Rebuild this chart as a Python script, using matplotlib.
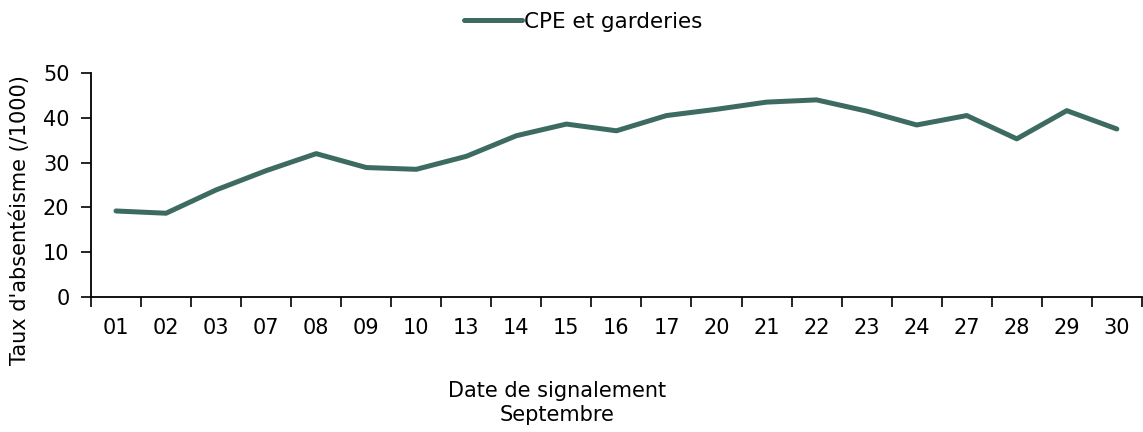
import matplotlib
matplotlib.use("Agg")
import matplotlib.pyplot as plt

dates = ["01", "02", "03", "07", "08", "09", "10", "13", "14", "15", "16",
         "17", "20", "21", "22", "23", "24", "27", "28", "29", "30"]
values = [19.2, 18.7, 23.9, 28.2, 32.0, 28.9, 28.5, 31.4, 36.0, 38.6, 37.1,
          40.5, 41.9, 43.5, 44.0, 41.5, 38.4, 40.5, 35.3, 41.6, 37.5]
series_name = "CPE et garderies"
yticks = [0, 10, 20, 30, 40, 50]

plt.rcParams['font.family'] = ['DejaVu Sans']
color = "#3d6b62"
fs = 15

fig = plt.figure(figsize=(11.43, 4.32), dpi=100)
ax = fig.add_axes([91/1143, 1-297/432, (1143-91)/1143 - 0.001, (297-73)/432])

x = list(range(len(dates)))
ax.plot(x, values, color=color, lw=3.6, solid_capstyle='round', solid_joinstyle='round',
        label=series_name)

ax.set_xlim(-0.5, len(dates) - 0.5)
ax.set_ylim(0, 50)
ax.set_yticks(yticks)
ax.set_yticklabels([str(t) for t in yticks], fontsize=fs)

ax.set_xticks(x)
ax.set_xticklabels(dates, fontsize=fs)
ax.tick_params(axis='x', which='major', length=0, pad=15)
ax.set_xticks([i - 0.5 for i in range(len(dates) + 1)], minor=True)
ax.tick_params(axis='x', which='minor', length=7, width=1.2, direction='out')
ax.tick_params(axis='y', length=7, width=1.2, direction='out', pad=8.5)

for s in ['top', 'right']:
    ax.spines[s].set_visible(False)
for s in ['left', 'bottom']:
    ax.spines[s].set_linewidth(1.3)

fig.legend(loc='center', bbox_to_anchor=(583/1143, 1-22/432), frameon=False,
           fontsize=15.5, handlelength=2.7, handletextpad=0.1)

fig.text(557/1143, 1-403/432, "Date de signalement\nSeptembre", ha='center', va='center',
         fontsize=fs, linespacing=1.3)
fig.text(20/1143, 1-220/432, "Taux d'absentéisme (/1000)", rotation=90, ha='center',
         va='center', fontsize=fs)

fig.savefig("out.png", dpi=100)
